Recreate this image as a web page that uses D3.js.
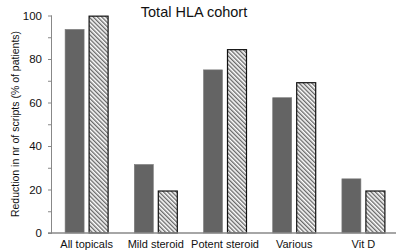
<!DOCTYPE html>
<html>
<head>
<meta charset="utf-8">
<script src="https://cdn.jsdelivr.net/npm/d3@7"></script>
<style>
  body { margin: 0; background: #fff; }
  svg { display: block; font-family: Arial, "Liberation Sans", sans-serif; }
</style>
</head>
<body>
<svg width="396" height="251"></svg>
<script>
// values
var categories = ['All topicals', 'Mild steroid', 'Potent steroid', 'Various', 'Vit D'];
var solidValues = [93.6, 31.5, 75, 62.2, 24.9];
var hatchValues = [99.7, 19.3, 84.3, 69.1, 19.3];
var yTicks = [0, 20, 40, 60, 80, 100];
var yMinorTicks = [0, 10, 20, 30, 40, 50, 60, 70, 80, 90, 100];

var svg = d3.select('svg'),
    margin = {top: 15.5, right: -2, bottom: 18, left: 52},
    width = svg.attr('width') - margin.left - margin.right,
    height = svg.attr('height') - margin.top - margin.bottom,
    g = svg.append('g').attr('transform', `translate(${margin.left}, ${margin.top})`);

var defs = svg.append('defs');
defs.append('pattern')
    .attr('id', 'hatch')
    .attr('patternUnits', 'userSpaceOnUse')
    .attr('width', 3)
    .attr('height', 3)
    .attr('patternTransform', 'rotate(-45)')
  .call(p => {
    p.append('rect').attr('width', 3).attr('height', 3).attr('fill', '#fff');
    p.append('line').attr('x1', 0.75).attr('y1', 0).attr('x2', 0.75).attr('y2', 3)
      .attr('stroke', '#444').attr('stroke-width', 1.1);
  });

var x = d3.scaleBand().domain(categories).range([0, width]);
var y = d3.scaleLinear().domain([0, 100]).range([height, 0]);

var barW = 19, gap = 5;

// y axis
var yAxis = g.append('g').attr('class', 'y-axis')
    .call(d3.axisLeft(y).tickValues(yMinorTicks).tickSize(5).tickFormat(d => yTicks.includes(d) ? d : ''));
yAxis.select('.domain').attr('stroke', '#888').attr('d', `M-0.5,${height}V0`);
yAxis.selectAll('.tick line').attr('stroke', '#888').attr('x2', 0).attr('x1', -4);
yAxis.selectAll('.tick text')
    .attr('x', -10)
    .attr('fill', '#111')
    .attr('font-size', 11.5)
    .attr('font-family', 'Arial, "Liberation Sans", sans-serif');

// bars
var groups = g.selectAll('.grp').data(categories).enter().append('g')
    .attr('class', 'grp')
    .attr('transform', d => `translate(${x(d) + x.bandwidth() / 2}, 0)`);

groups.append('rect')
    .attr('x', -barW - gap / 2)
    .attr('width', barW)
    .attr('y', (d, i) => y(solidValues[i]))
    .attr('height', (d, i) => height - y(solidValues[i]))
    .attr('fill', '#646464')
    .attr('stroke', '#7a7a7a')
    .attr('stroke-width', 0.6);

groups.append('rect')
    .attr('x', gap / 2)
    .attr('width', barW)
    .attr('y', (d, i) => y(hatchValues[i]))
    .attr('height', (d, i) => height - y(hatchValues[i]))
    .attr('fill', 'url(#hatch)')
    .attr('stroke', '#111')
    .attr('stroke-width', 1.2);

// x axis
var xAxis = g.append('g').attr('class', 'x-axis')
    .attr('transform', `translate(0,${height})`)
    .call(d3.axisBottom(x).tickSize(0).tickPadding(7));
xAxis.select('.domain').attr('stroke', '#888').attr('stroke-width', 1.4).attr('d', `M-4,0H${396 - margin.left}`);
xAxis.selectAll('.tick text')
    .attr('fill', '#111')
    .attr('font-size', 11)
    .attr('font-family', 'Arial, "Liberation Sans", sans-serif');

// title
svg.append('text')
    .attr('x', 194)
    .attr('y', 17)
    .attr('text-anchor', 'middle')
    .attr('font-size', 14.5)
    .attr('fill', '#111')
    .text('Total HLA cohort');

// y label
svg.append('text')
    .attr('transform', `translate(19, 124) rotate(-90)`)
    .attr('text-anchor', 'middle')
    .attr('font-size', 10.5)
    .attr('fill', '#111')
    .text('Reduction in nr of scripts (% of patients)');
</script>
</body>
</html>
